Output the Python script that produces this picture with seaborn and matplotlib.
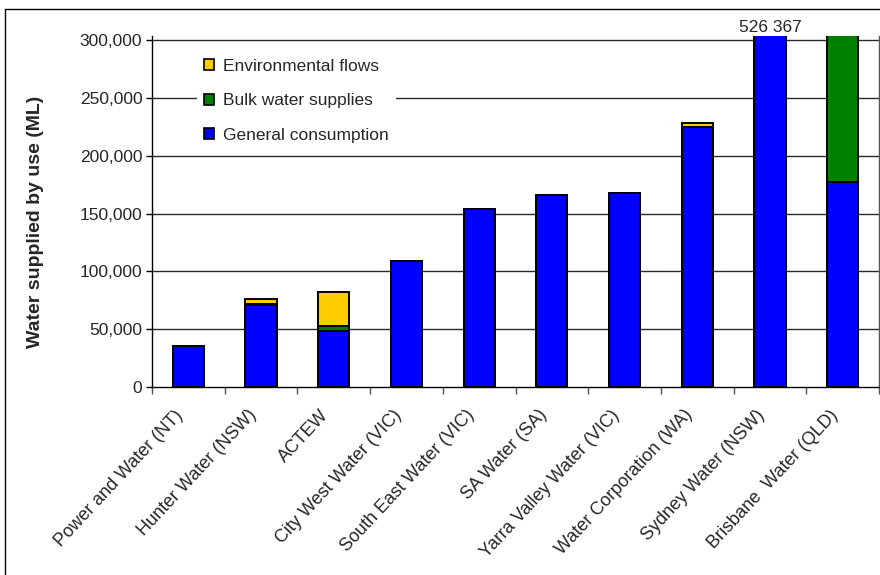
import matplotlib
matplotlib.use("Agg")
import matplotlib.pyplot as plt
import matplotlib.patches as mpatches
import matplotlib.transforms as mtransforms
from matplotlib.ticker import FuncFormatter, FixedLocator
import seaborn as sns
import pandas as pd
import numpy as np

# ---- data ----
utilities = ["Power and Water (NT)", "Hunter Water (NSW)", "ACTEW",
             "City West Water (VIC)", "South East Water (VIC)", "SA Water (SA)",
             "Yarra Valley Water (VIC)", "Water Corporation (WA)",
             "Sydney Water (NSW)", "Brisbane  Water (QLD)"]
general = [35700, 70500, 48500, 108700, 154000, 166200, 167800, 225200, 526367, 177300]
bulk = [0, 1500, 4500, 0, 0, 0, 0, 0, 0, 200000]
environmental = [0, 4400, 29500, 0, 0, 0, 0, 3400, 0, 0]
series_names = ["Environmental flows", "Bulk water supplies", "General consumption"]
series_colors = ["#FFCC00", "#008000", "#0000FF"]
y_ticks = [0, 50000, 100000, 150000, 200000, 250000, 300000]
clipped_label = "526 367"

sns.set_theme(style="white")
plt.rcParams["font.family"] = ["Liberation Sans", "DejaVu Sans"]

df = pd.DataFrame({"utility": utilities, "general": general,
                   "bulk": bulk, "env": environmental})
df["gb"] = df["general"] + df["bulk"]
df["total"] = df["gb"] + df["env"]

fig = plt.figure(figsize=(8.8, 5.75), dpi=100)
ax = fig.add_axes([152/880, 1-387/575, (879-152)/880, (387-36)/575])

ymax = 300000 * (387-36) / (387-40)

for col, color in zip(["total", "gb", "general"], series_colors):
    sns.barplot(data=df, x="utility", y=col, color=color, saturation=1,
                width=0.43, edgecolor="black", linewidth=1.4, ax=ax, zorder=3)

ax.set_xlim(-0.5, len(utilities) - 0.5)
ax.set_ylim(0, ymax)

# grid
ax.set_yticks(y_ticks)
ax.yaxis.set_major_formatter(FuncFormatter(lambda v, p: f"{int(v):,}"))
for t in y_ticks[1:]:
    ax.axhline(t, color="#2a2a2a", linewidth=1, zorder=1)

ax.tick_params(axis="y", which="major", direction="out", length=4, width=1,
               color="black", labelsize=12.5, pad=3, left=True)
ax.tick_params(axis="x", which="major", length=0, labelsize=13, pad=4)
ax.xaxis.set_minor_locator(FixedLocator(np.arange(-0.5, len(utilities), 1.0)))
ax.tick_params(axis="x", which="minor", direction="out", length=5, width=1,
               color="#555555", bottom=True)
ax.set_xticks(range(len(utilities)))
ax.set_xticklabels(utilities, rotation=47, ha="right", rotation_mode="anchor",
                   fontsize=13)
shift = mtransforms.ScaledTranslation(-0.14, -0.14, fig.dpi_scale_trans)
for lab in ax.get_xticklabels():
    lab.set_transform(lab.get_transform() + shift)
ax.set_xlabel("")
ax.set_ylabel("Water supplied by use (ML)", fontsize=14, fontweight="bold")
ax.yaxis.set_label_coords(-0.149, 0.47)

ax.spines["top"].set_visible(False)
ax.spines["right"].set_color("#555555")
ax.spines["right"].set_linewidth(1)
for s in ["left", "bottom"]:
    ax.spines[s].set_color("black")
    ax.spines[s].set_linewidth(1)
    ax.spines[s].set_zorder(4)

# label for clipped bar
idx = int(np.argmax(df["general"]))
ax.annotate(clipped_label, xy=(idx, ymax), xytext=(0, 6), textcoords="offset points",
            ha="center", va="center", fontsize=12.5, annotation_clip=False)

# legend
handles = [mpatches.Patch(facecolor=c, edgecolor="black", linewidth=1.2) for c in series_colors]
leg = ax.legend(handles, series_names, loc="upper left",
                bbox_to_anchor=(0.062, 0.955), frameon=True, fontsize=12.5,
                handlelength=0.6, handleheight=0.6, handletextpad=0.5,
                labelspacing=1.12, borderpad=0.4, borderaxespad=0, fancybox=False)
leg.get_frame().set_facecolor("white")
leg.get_frame().set_edgecolor("none")
leg.get_frame().set_alpha(1)
leg.set_zorder(5)

# outer border (left and top visible)
fig.add_artist(plt.Line2D([4.5/880, 4.5/880], [0, 1-9/575], transform=fig.transFigure,
                          color="black", linewidth=1))
fig.add_artist(plt.Line2D([4.5/880, 1], [1-9/575, 1-9/575], transform=fig.transFigure,
                          color="black", linewidth=1))

fig.savefig("out.png", dpi=100, facecolor="white")
